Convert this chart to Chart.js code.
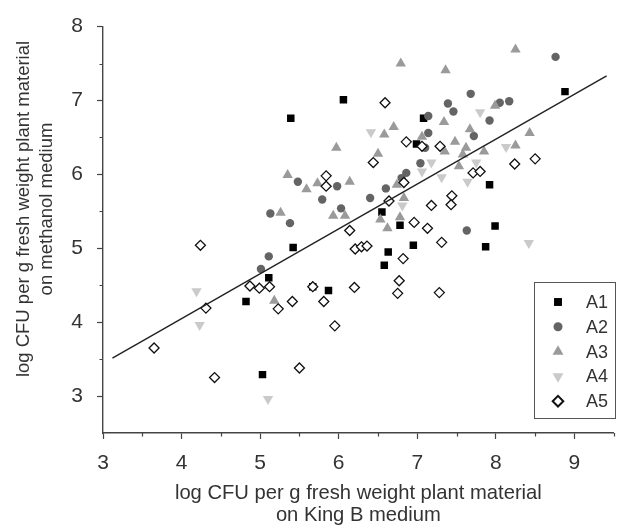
<!DOCTYPE html>
<html>
<head>
<meta charset="utf-8">
<script src="https://cdn.jsdelivr.net/npm/chart.js"></script>
<style>
  body { margin: 0; background: #fff; }
  canvas { display: block; }
</style>
</head>
<body>
<canvas id="scatterChart" width="620" height="526"></canvas>
<script>
// Values (log CFU, King B vs methanol medium)
const seriesNames = ['A1', 'A2', 'A3', 'A4', 'A5'];

const a1X = [5.39, 6.06, 8.88, 7.08, 6.99, 7.92, 6.55, 6.78, 7.99, 5.42, 5.11, 4.82, 5.03, 5.87, 5.67, 6.63, 6.58, 6.95, 7.87];
const a1Y = [6.76, 7.01, 7.12, 6.76, 6.41, 5.86, 5.49, 5.31, 5.30, 5.01, 4.60, 4.28, 3.29, 4.43, 4.48, 4.95, 4.77, 5.04, 5.02];

const a2X = [8.76, 5.48, 5.98, 5.79, 6.03, 5.13, 5.38, 7.68, 7.39, 7.46, 8.05, 8.17, 7.92, 7.14, 7.14, 7.72, 7.10, 7.04, 6.86, 6.80, 6.60, 6.40, 7.63, 5.11, 5.01];
const a2Y = [7.59, 5.90, 5.84, 5.66, 5.54, 5.47, 5.34, 7.09, 6.96, 6.85, 6.97, 6.99, 6.73, 6.79, 6.56, 6.52, 6.36, 6.15, 6.02, 5.95, 5.81, 5.68, 5.24, 4.89, 4.72];

const a3X = [8.25, 6.79, 7.36, 5.97, 5.35, 5.59, 5.73, 6.14, 5.26, 5.93, 6.08, 6.70, 6.58, 7.34, 7.99, 8.43, 8.25, 7.67, 7.06, 7.48, 7.62, 7.85, 7.58, 7.35, 6.50, 7.53, 6.74, 6.83, 6.53, 6.78, 6.62, 5.18];
const a3Y = [7.69, 7.50, 7.41, 6.36, 5.99, 5.80, 5.88, 5.90, 5.48, 5.44, 5.44, 6.64, 6.54, 6.71, 6.93, 6.56, 6.39, 6.61, 6.51, 6.44, 6.36, 6.31, 6.27, 6.31, 6.28, 6.11, 5.86, 5.68, 5.39, 5.42, 5.27, 4.29];

const a4X = [7.80, 6.41, 8.13, 7.18, 7.75, 7.06, 7.31, 7.64, 6.81, 4.19, 4.23, 5.10, 8.42];
const a4Y = [6.84, 6.57, 6.37, 6.16, 6.16, 6.04, 5.96, 5.90, 5.58, 4.42, 3.96, 2.96, 5.07];

const a5X = [5.84, 5.84, 6.14, 6.59, 6.86, 7.06, 7.29, 6.44, 8.24, 8.50, 7.71, 7.80, 6.83, 6.64, 7.44, 7.43, 7.18, 6.96, 7.13, 4.24, 6.21, 4.87, 4.99, 5.12, 5.67, 6.20, 4.31, 5.23, 5.41, 5.81, 5.95, 3.65, 4.42, 5.50, 6.29, 6.36, 7.31, 6.82, 6.77, 6.75, 7.28];
const a5Y = [5.98, 5.84, 5.24, 6.97, 6.44, 6.38, 6.38, 6.16, 6.14, 6.21, 6.02, 6.04, 5.89, 5.64, 5.71, 5.59, 5.58, 5.35, 5.27, 5.04, 4.99, 4.49, 4.46, 4.48, 4.48, 4.47, 4.19, 4.18, 4.28, 4.28, 3.95, 3.65, 3.25, 3.38, 5.02, 5.03, 5.08, 4.86, 4.56, 4.39, 4.40];

// Regression line
const fitSlope = 0.607;
const fitIntercept = 1.62;
const fitRange = [3.12, 9.41];

const xTicks = [3, 4, 5, 6, 7, 8, 9];
const yTicks = [3, 4, 5, 6, 7, 8];

const xTitle = ['log CFU per g fresh weight plant material', 'on King B medium'];
const yTitle = ['log CFU per g fresh weight plant material', 'on methanol medium'];

const fontFamily = '"Liberation Sans", Arial, sans-serif';
const axisColor = '#444';
const textColor = '#333';

function toPoints(xs, ys) {
    return xs.map((x, i) => ({ x: x, y: ys[i] }));
}

const seriesStyles = [
    { pointStyle: 'rect', radius: 5.3, rotation: 0, fill: '#000', border: '#000', borderWidth: 0 },
    { pointStyle: 'circle', radius: 4.2, rotation: 0, fill: '#646464', border: '#646464', borderWidth: 0 },
    { pointStyle: 'triangle', radius: 6, rotation: 0, fill: '#9a9a9a', border: '#9a9a9a', borderWidth: 0 },
    { pointStyle: 'triangle', radius: 6, rotation: 180, fill: '#cacaca', border: '#cacaca', borderWidth: 0 },
    { pointStyle: 'rectRot', radius: 5, rotation: 0, fill: '#fff', border: '#111', borderWidth: 1.3 }
];

const seriesData = [
    toPoints(a1X, a1Y),
    toPoints(a2X, a2Y),
    toPoints(a3X, a3Y),
    toPoints(a4X, a4Y),
    toPoints(a5X, a5Y)
];

const scatterSets = seriesNames.map((name, i) => ({
    type: 'scatter',
    label: name,
    data: seriesData[i],
    pointStyle: seriesStyles[i].pointStyle,
    pointRadius: seriesStyles[i].radius,
    pointHoverRadius: seriesStyles[i].radius,
    rotation: seriesStyles[i].rotation,
    backgroundColor: seriesStyles[i].fill,
    borderColor: seriesStyles[i].border,
    borderWidth: seriesStyles[i].borderWidth,
    order: 6 - i
}));

const fitLine = {
    type: 'line',
    label: 'fit',
    data: fitRange.map(x => ({ x: x, y: fitIntercept + fitSlope * x })),
    borderColor: '#222',
    borderWidth: 1.4,
    pointRadius: 0,
    fill: false,
    order: 0
};

// half-step tick marks on both axes
const minorTicks = {
    id: 'minorTicks',
    afterDraw(chart) {
        const { ctx, scales: { x, y } } = chart;
        ctx.save();
        ctx.strokeStyle = axisColor;
        ctx.lineWidth = 1.2;
        ctx.beginPath();
        xTicks.forEach(v => {
            const px = Math.round(x.getPixelForValue(v + 0.5)) + 0.5;
            ctx.moveTo(px, x.top);
            ctx.lineTo(px, x.top + 3.5);
        });
        yTicks.forEach(v => {
            if (v - 0.5 <= y.min) return;
            const py = Math.round(y.getPixelForValue(v - 0.5)) + 0.5;
            ctx.moveTo(y.right, py);
            ctx.lineTo(y.right - 3.5, py);
        });
        ctx.stroke();
        ctx.restore();
    }
};

// rotated y axis title, centred a little above the plot middle like the original
const yTitlePlugin = {
    id: 'yTitlePlugin',
    afterDraw(chart) {
        const ctx = chart.ctx;
        ctx.save();
        ctx.translate(0, 209);
        ctx.rotate(-Math.PI / 2);
        ctx.font = '18.5px ' + fontFamily;
        ctx.fillStyle = textColor;
        ctx.textAlign = 'center';
        ctx.textBaseline = 'middle';
        yTitle.forEach((line, i) => ctx.fillText(line, 0, 24 + i * 22.5));
        ctx.restore();
    }
};

// boxed legend in the lower right corner
const boxLegend = {
    id: 'boxLegend',
    afterDraw(chart) {
        const ctx = chart.ctx;
        const left = 534.5, top = 282.5, width = 81, height = 136;
        ctx.save();
        ctx.strokeStyle = '#555';
        ctx.lineWidth = 1;
        ctx.strokeRect(left, top, width, height);
        ctx.font = '18px ' + fontFamily;
        ctx.textBaseline = 'middle';
        seriesNames.forEach((name, i) => {
            const s = seriesStyles[i];
            const cy = 302 + i * 24.8;
            ctx.fillStyle = s.fill;
            ctx.strokeStyle = s.border;
            ctx.lineWidth = i === 4 ? 2 : 0.01;
            Chart.helpers.drawPoint(ctx, {
                pointStyle: s.pointStyle,
                rotation: s.rotation,
                radius: s.radius + 0.3,
                borderWidth: i === 4 ? 2 : 0
            }, 558, cy);
            ctx.fillStyle = textColor;
            ctx.fillText(name, 586, cy + 1);
        });
        ctx.restore();
    }
};

new Chart(document.getElementById('scatterChart').getContext('2d'), {
    data: { datasets: [...scatterSets, fitLine] },
    options: {
        responsive: false,
        animation: false,
        layout: { padding: { top: 20, right: 6, bottom: 0, left: 0 } },
        plugins: {
            legend: { display: false },
            tooltip: { enabled: false }
        },
        scales: {
            x: {
                type: 'linear',
                min: 3,
                max: 9.5,
                afterFit(scale) { scale.height = 93; },
                border: { display: true, color: axisColor, width: 1.4 },
                grid: { drawOnChartArea: false, drawTicks: true, tickLength: 6, tickColor: axisColor, tickWidth: 1.2 },
                ticks: {
                    stepSize: 1,
                    includeBounds: false,
                    padding: 12,
                    maxRotation: 0,
                    color: textColor,
                    font: { family: fontFamily, size: 21 }
                },
                title: {
                    display: true,
                    text: xTitle,
                    color: textColor,
                    font: { family: fontFamily, size: 20.2, lineHeight: 1.08 },
                    padding: { top: 0, bottom: 0 }
                }
            },
            y: {
                type: 'linear',
                min: 2.5,
                max: 8,
                afterFit(scale) { scale.width = 103; },
                border: { display: true, color: axisColor, width: 1.4 },
                grid: { drawOnChartArea: false, drawTicks: true, tickLength: 6, tickColor: axisColor, tickWidth: 1.2 },
                ticks: {
                    stepSize: 1,
                    includeBounds: false,
                    padding: 14,
                    color: textColor,
                    font: { family: fontFamily, size: 21 }
                },
                title: { display: false }
            }
        }
    },
    plugins: [minorTicks, yTitlePlugin, boxLegend]
});
</script>
</body>
</html>
